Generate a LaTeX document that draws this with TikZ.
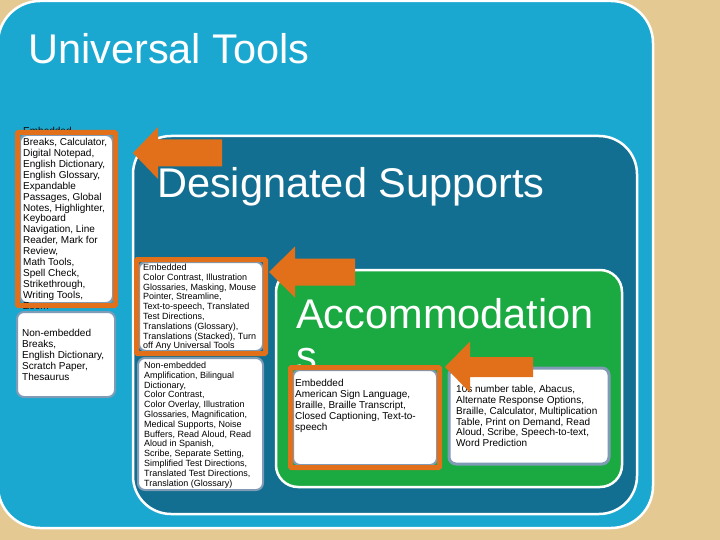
\documentclass[tikz,border=0pt]{standalone}
\usepackage{fontspec}
\setmainfont{Liberation Sans}
\usepackage{tikz}
\definecolor{sand}{HTML}{E4C993}
\definecolor{utblue}{HTML}{1AA8D1}
\definecolor{dsteal}{HTML}{126F91}
\definecolor{acgreen}{HTML}{1BAA42}
\definecolor{arrorange}{HTML}{E2701A}
\definecolor{boxedge}{HTML}{7F9BB6}

\begin{document}
\begin{tikzpicture}[x=1pt,y=-1pt]
\tikzset{panel/.style = {draw=white, line width=2.5pt}}
\tikzset{listbox/.style = {fill=white, draw=boxedge, line width=2pt, rounded corners=7pt}}
\tikzset{frame/.style = {draw=arrorange, line width=5pt, rounded corners=1pt}}
\tikzset{title/.style = {text=white, font=\fontsize{41.5}{41.5}\selectfont, inner sep=0pt, anchor=base west}}
\tikzset{list/.style = {align=left, inner sep=0pt, anchor=north west, text=black}}
\tikzset{bigtext/.style = {list, font=\fontsize{10}{10.9}\selectfont}}
\tikzset{smalltext/.style = {list, font=\fontsize{9}{9.8}\selectfont}}
\tikzset{blockarrow/.style = {fill=arrorange}}
% background and panels
\fill[sand] (0,0) rectangle (720,540);
\useasboundingbox (0,0) rectangle (720,540);
\draw[panel, fill=utblue, rounded corners=42pt] (-2,1) rectangle (653,528);
\draw[panel, fill=dsteal, rounded corners=38pt] (133,136) rectangle (637,514);
\draw[panel, fill=acgreen, rounded corners=22pt] (276,270) rectangle (622,487);
% titles
\node[title] (ut) at (28,64) {Universal Tools};
\node[title] (ds) at (157,197) {Designated Supports};
\node[title] (ac) at (296,328) {Accommodation};
\node[title] (acs) at (296,370) {s};
% universal tools, embedded
\draw[listbox] (20,135) rectangle (113,303);
\node[bigtext] (utemb) at (23,127.3) {Embedded\\Breaks, Calculator,\\Digital Notepad,\\English Dictionary,\\English Glossary,\\Expandable\\Passages, Global\\Notes, Highlighter,\\Keyboard\\Navigation, Line\\Reader, Mark for\\Review,\\Math Tools,\\Spell Check,\\Strikethrough,\\Writing Tools,\\Zoom};
\draw[frame] (17.5,132.5) rectangle (115.5,305.5);
% universal tools, non-embedded
\draw[listbox] (17,312) rectangle (115,397);
\node[bigtext] (utnon) at (22,329.3) {Non-embedded\\Breaks,\\English Dictionary,\\Scratch Paper,\\Thesaurus};
% designated supports, embedded
\draw[listbox] (139,262) rectangle (263,351);
\node[smalltext] (dsemb) at (143,263.7) {Embedded\\Color Contrast, Illustration\\Glossaries, Masking, Mouse\\Pointer, Streamline,\\Text-to-speech, Translated\\Test Directions,\\Translations (Glossary),\\Translations (Stacked), Turn\\off Any Universal Tools};
\draw[frame] (136.5,259.5) rectangle (265.5,353.5);
% designated supports, non-embedded
\draw[listbox] (138,358) rectangle (263,490);
\node[smalltext] (dsnon) at (144,361.7) {Non-embedded\\Amplification, Bilingual\\Dictionary,\\Color Contrast,\\Color Overlay, Illustration\\Glossaries, Magnification,\\Medical Supports, Noise\\Buffers, Read Aloud, Read\\Aloud in Spanish,\\Scribe, Separate Setting,\\Simplified Test Directions,\\Translated Test Directions,\\Translation (Glossary)};
% accommodations, embedded
\draw[listbox] (293,370) rectangle (437,465);
\node[list, font=\fontsize{10}{11}\selectfont] (acemb) at (295,379.3) {Embedded\\American Sign Language,\\Braille, Braille Transcript,\\Closed Captioning, Text-to-\\speech};
\draw[frame] (290.5,367.5) rectangle (439.5,467.5);
% accommodations, non-embedded
\draw[listbox, line width=3pt] (449,368) rectangle (609,464);
\node[list, font=\fontsize{10}{10.8}\selectfont] (acnon) at (456,385.3) {10s number table, Abacus,\\Alternate Response Options,\\Braille, Calculator, Multiplication\\Table, Print on Demand, Read\\Aloud, Scribe, Speech-to-text,\\Word Prediction};
% arrows
\coordinate (tipds) at (133,153);
\coordinate (tipdsemb) at (269,272);
\coordinate (tipacemb) at (445,367);
\fill[blockarrow] (tipds) -- ++(25,-26) -- ++(0,12.5) -- ++(64,0) -- ++(0,27) -- ++(-64,0) -- ++(0,12.5) -- cycle;
\fill[blockarrow] (tipdsemb) -- ++(26,-25.5) -- ++(0,12) -- ++(60,0) -- ++(0,27) -- ++(-60,0) -- ++(0,12) -- cycle;
\fill[blockarrow] (tipacemb) -- ++(25,-25.5) -- ++(0,15.5) -- ++(63,0) -- ++(0,20) -- ++(-63,0) -- ++(0,15.5) -- cycle;
\end{tikzpicture}
\end{document}
